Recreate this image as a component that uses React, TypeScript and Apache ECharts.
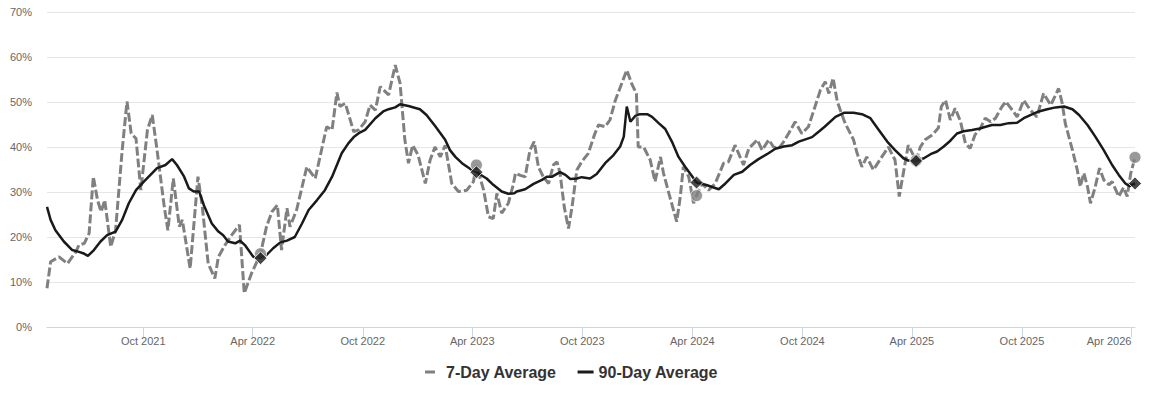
import React, { useEffect, useRef } from 'react';
import * as echarts from 'echarts';

const sevenDay: [string, number][] = [
  ['2021-04-24', 8.6], ['2021-04-30', 14.5], ['2021-05-14', 15.6], ['2021-05-28', 14.1],
  ['2021-06-11', 16.7], ['2021-06-16', 18.2], ['2021-06-25', 18.6], ['2021-07-03', 20.8],
  ['2021-07-10', 33.4], ['2021-07-17', 28.2], ['2021-07-23', 25.6], ['2021-07-29', 28.2],
  ['2021-08-08', 17.8], ['2021-08-16', 21.5], ['2021-08-27', 39.3], ['2021-09-04', 50.1],
  ['2021-09-11', 43.0], ['2021-09-19', 41.9], ['2021-09-27', 30.4], ['2021-10-08', 43.8],
  ['2021-10-16', 47.1], ['2021-10-24', 39.3], ['2021-11-05', 26.7], ['2021-11-11', 21.5],
  ['2021-11-20', 33.0], ['2021-11-30', 22.3], ['2021-12-05', 23.8], ['2021-12-18', 13.0],
  ['2021-12-31', 33.4], ['2022-01-07', 27.0], ['2022-01-17', 14.1], ['2022-01-28', 10.8],
  ['2022-02-03', 15.6], ['2022-02-14', 18.2], ['2022-02-25', 20.4], ['2022-03-10', 22.7],
  ['2022-03-18', 7.5], ['2022-03-30', 11.9], ['2022-04-08', 14.5], ['2022-04-14', 16.3],
  ['2022-04-24', 22.3], ['2022-05-03', 25.6], ['2022-05-12', 27.1], ['2022-05-19', 17.1],
  ['2022-05-28', 26.4], ['2022-06-02', 22.3], ['2022-06-13', 26.0], ['2022-06-30', 35.6],
  ['2022-07-14', 33.0], ['2022-08-02', 44.5], ['2022-08-11', 43.8], ['2022-08-19', 52.1],
  ['2022-08-24', 49.0], ['2022-09-02', 49.7], ['2022-09-16', 43.4], ['2022-09-24', 43.8],
  ['2022-10-05', 45.6], ['2022-10-13', 49.3], ['2022-10-22', 48.2], ['2022-10-30', 53.4],
  ['2022-11-13', 51.6], ['2022-11-24', 58.2], ['2022-12-02', 54.2], ['2022-12-10', 41.6],
  ['2022-12-16', 36.4], ['2022-12-23', 40.4], ['2023-01-01', 38.2], ['2023-01-13', 31.9],
  ['2023-01-21', 37.1], ['2023-01-29', 40.0], ['2023-02-07', 37.8], ['2023-02-15', 40.4],
  ['2023-02-26', 31.9], ['2023-03-09', 30.1], ['2023-03-23', 30.4], ['2023-04-03', 32.3],
  ['2023-04-08', 36.0], ['2023-04-20', 30.4], ['2023-04-28', 24.5], ['2023-05-06', 24.1],
  ['2023-05-12', 29.7], ['2023-05-20', 25.3], ['2023-05-31', 27.5], ['2023-06-08', 31.5],
  ['2023-06-12', 34.2], ['2023-06-20', 33.7], ['2023-06-28', 33.4], ['2023-07-06', 39.3],
  ['2023-07-13', 41.2], ['2023-07-20', 35.6], ['2023-07-28', 33.4], ['2023-08-06', 31.9],
  ['2023-08-14', 36.0], ['2023-08-20', 36.7], ['2023-08-25', 34.2], ['2023-09-01', 26.7],
  ['2023-09-08', 21.9], ['2023-09-14', 26.7], ['2023-09-22', 34.9], ['2023-09-30', 36.7],
  ['2023-10-11', 38.6], ['2023-10-22', 43.0], ['2023-10-28', 44.9], ['2023-11-08', 44.5],
  ['2023-11-16', 46.0], ['2023-11-25', 50.4], ['2023-12-14', 57.1], ['2023-12-23', 53.8],
  ['2023-12-30', 51.9], ['2024-01-02', 40.0], ['2024-01-11', 40.0], ['2024-01-22', 37.1],
  ['2024-01-30', 32.3], ['2024-02-08', 37.8], ['2024-02-13', 34.2], ['2024-02-22', 29.7],
  ['2024-03-06', 23.4], ['2024-03-12', 29.0], ['2024-03-17', 35.6], ['2024-03-26', 33.4],
  ['2024-04-03', 27.5], ['2024-04-08', 29.2], ['2024-04-17', 31.9], ['2024-04-28', 30.4],
  ['2024-05-09', 31.9], ['2024-05-23', 36.4], ['2024-05-31', 36.7], ['2024-06-11', 40.4],
  ['2024-06-25', 36.0], ['2024-07-04', 39.7], ['2024-07-18', 41.6], ['2024-07-26', 39.3],
  ['2024-08-06', 41.6], ['2024-08-14', 40.0], ['2024-08-23', 39.7], ['2024-08-31', 41.2],
  ['2024-09-08', 43.0], ['2024-09-19', 45.6], ['2024-09-30', 43.0], ['2024-10-11', 44.5],
  ['2024-10-22', 49.0], ['2024-10-31', 52.7], ['2024-11-08', 54.5], ['2024-11-14', 51.9],
  ['2024-11-21', 55.3], ['2024-11-28', 50.1], ['2024-12-03', 48.2], ['2024-12-11', 45.3],
  ['2024-12-25', 41.6], ['2024-12-31', 38.6], ['2025-01-08', 35.6], ['2025-01-16', 37.8],
  ['2025-01-27', 34.9], ['2025-02-10', 37.8], ['2025-02-21', 40.0], ['2025-03-04', 37.1],
  ['2025-03-11', 29.0], ['2025-03-26', 40.4], ['2025-04-08', 37.0], ['2025-04-15', 40.0],
  ['2025-04-23', 41.6], ['2025-05-05', 42.7], ['2025-05-15', 44.2], ['2025-05-20', 49.0],
  ['2025-05-27', 50.4], ['2025-06-04', 46.0], ['2025-06-12', 48.6], ['2025-06-21', 45.6],
  ['2025-06-29', 40.8], ['2025-07-07', 39.7], ['2025-07-15', 42.7], ['2025-07-24', 44.2],
  ['2025-08-01', 46.4], ['2025-08-10', 45.6], ['2025-08-18', 46.4], ['2025-08-29', 49.0],
  ['2025-09-04', 50.1], ['2025-09-15', 48.2], ['2025-09-23', 46.7], ['2025-10-04', 50.4],
  ['2025-10-15', 48.2], ['2025-10-26', 46.7], ['2025-11-06', 51.9], ['2025-11-18', 49.3],
  ['2025-12-01', 53.0], ['2025-12-07', 49.7], ['2025-12-12', 45.3], ['2025-12-24', 39.3],
  ['2026-01-01', 34.9], ['2026-01-06', 31.2], ['2026-01-12', 34.2], ['2026-01-18', 31.2],
  ['2026-01-23', 27.5], ['2026-01-31', 31.2], ['2026-02-07', 35.3], ['2026-02-14', 32.7],
  ['2026-02-23', 31.6], ['2026-02-28', 32.3], ['2026-03-11', 29.0], ['2026-03-19', 31.0],
  ['2026-03-25', 29.0], ['2026-03-31', 34.2], ['2026-04-07', 37.7],
];

const ninetyDay: [string, number][] = [
  ['2021-04-24', 26.7], ['2021-04-30', 23.8], ['2021-05-08', 21.5], ['2021-05-22', 19.0],
  ['2021-06-05', 17.1], ['2021-06-16', 16.7], ['2021-06-23', 16.4], ['2021-07-01', 15.8],
  ['2021-07-11', 17.1], ['2021-07-22', 19.0], ['2021-08-02', 20.4], ['2021-08-16', 21.2],
  ['2021-08-27', 23.8], ['2021-09-07', 27.5], ['2021-09-19', 30.4], ['2021-10-02', 32.3],
  ['2021-10-13', 33.8], ['2021-10-24', 35.3], ['2021-11-07', 36.0], ['2021-11-18', 37.3],
  ['2021-11-26', 36.0], ['2021-12-08', 33.4], ['2021-12-16', 30.8], ['2021-12-24', 30.1],
  ['2022-01-02', 30.1], ['2022-01-10', 27.0], ['2022-01-23', 23.0], ['2022-02-03', 21.2],
  ['2022-02-11', 20.4], ['2022-02-19', 19.0], ['2022-03-03', 18.6], ['2022-03-11', 19.2],
  ['2022-03-19', 18.2], ['2022-04-02', 15.6], ['2022-04-14', 15.3], ['2022-04-24', 16.0],
  ['2022-05-05', 17.5], ['2022-05-17', 18.8], ['2022-05-28', 19.2], ['2022-06-10', 20.0],
  ['2022-06-22', 23.0], ['2022-07-03', 26.0], ['2022-07-17', 28.2], ['2022-07-30', 30.4],
  ['2022-08-11', 33.4], ['2022-08-19', 36.0], ['2022-08-27', 38.6], ['2022-09-07', 40.8],
  ['2022-09-16', 42.2], ['2022-09-26', 43.2], ['2022-10-05', 43.8], ['2022-10-22', 46.4],
  ['2022-11-04', 47.9], ['2022-11-13', 48.4], ['2022-11-24', 48.8], ['2022-12-02', 49.5],
  ['2022-12-16', 49.1], ['2023-01-04', 48.4], ['2023-01-15', 47.1], ['2023-01-29', 44.7],
  ['2023-02-15', 41.6], ['2023-02-23', 39.3], ['2023-03-04', 37.8], ['2023-03-15', 36.4],
  ['2023-03-29', 35.1], ['2023-04-08', 34.4], ['2023-04-25', 33.0], ['2023-05-06', 31.6],
  ['2023-05-20', 30.1], ['2023-05-31', 29.6], ['2023-06-10', 29.7], ['2023-06-14', 30.1],
  ['2023-06-28', 30.6], ['2023-07-12', 31.8], ['2023-07-26', 32.7], ['2023-08-03', 33.4],
  ['2023-08-12', 33.4], ['2023-08-25', 34.4], ['2023-09-03', 33.8], ['2023-09-11', 32.9],
  ['2023-09-22', 33.0], ['2023-09-30', 33.3], ['2023-10-14', 33.0], ['2023-10-25', 34.0],
  ['2023-11-08', 36.4], ['2023-11-22', 38.2], ['2023-12-03', 40.1], ['2023-12-09', 42.3],
  ['2023-12-14', 49.0], ['2023-12-20', 45.6], ['2023-12-28', 46.9], ['2024-01-05', 47.3],
  ['2024-01-17', 47.3], ['2024-01-25', 46.7], ['2024-02-05', 45.3], ['2024-02-16', 44.0],
  ['2024-02-27', 41.2], ['2024-03-09', 37.8], ['2024-03-20', 35.6], ['2024-03-31', 33.6],
  ['2024-04-08', 32.1], ['2024-04-23', 31.6], ['2024-05-04', 31.1], ['2024-05-15', 30.6],
  ['2024-05-26', 31.9], ['2024-06-09', 33.8], ['2024-06-23', 34.5], ['2024-07-06', 36.0],
  ['2024-07-20', 37.3], ['2024-08-03', 38.4], ['2024-08-17', 39.6], ['2024-08-31', 40.1],
  ['2024-09-14', 40.4], ['2024-09-25', 41.2], ['2024-10-06', 41.7], ['2024-10-17', 42.2],
  ['2024-10-28', 43.4], ['2024-11-07', 44.5], ['2024-11-25', 46.7], ['2024-12-09', 47.6],
  ['2024-12-25', 47.6], ['2025-01-08', 47.3], ['2025-01-22', 46.4], ['2025-02-05', 43.8],
  ['2025-02-19', 41.2], ['2025-03-04', 39.3], ['2025-03-18', 37.5], ['2025-03-26', 37.0],
  ['2025-04-08', 36.9], ['2025-04-21', 37.5], ['2025-05-02', 38.4], ['2025-05-13', 39.0],
  ['2025-05-24', 40.1], ['2025-06-04', 41.4], ['2025-06-15', 43.0], ['2025-06-26', 43.5],
  ['2025-07-10', 43.8], ['2025-07-23', 44.1], ['2025-07-30', 44.4], ['2025-08-12', 44.9],
  ['2025-08-26', 44.9], ['2025-09-09', 45.3], ['2025-09-23', 45.4], ['2025-10-04', 46.4],
  ['2025-10-15', 47.1], ['2025-10-29', 47.9], ['2025-11-12', 48.4], ['2025-11-26', 48.8],
  ['2025-12-10', 49.0], ['2025-12-24', 48.4], ['2026-01-04', 47.1], ['2026-01-18', 44.9],
  ['2026-01-31', 42.3], ['2026-02-14', 39.3], ['2026-02-28', 36.0], ['2026-03-11', 33.8],
  ['2026-03-22', 31.9], ['2026-03-29', 31.3], ['2026-04-07', 31.9],
];

const markerDates = ['2022-04-14', '2023-04-08', '2024-04-08', '2025-04-08', '2026-04-07'];
const markerSevenDay = [16.3, 36.0, 29.2, 37.0, 37.7];
const markerNinetyDay = [15.3, 34.4, 32.1, 36.9, 31.9];

const tickDates = [
  '2021-10-01', '2022-04-01', '2022-10-01', '2023-04-01', '2023-10-01',
  '2024-04-01', '2024-10-01', '2025-04-01', '2025-10-01', '2026-04-01',
];

const xStart = '2021-04-24';
const xEnd = '2026-04-07';
const MONTHS = ['Jan', 'Feb', 'Mar', 'Apr', 'May', 'Jun', 'Jul', 'Aug', 'Sep', 'Oct', 'Nov', 'Dec'];

function toTs(s: string): number {
  const [y, m, d] = s.split('-').map(Number);
  return new Date(y, m - 1, d).getTime();
}

const FONT = '"Liberation Sans", Arial, Helvetica, sans-serif';

export default function App() {
  const ref = useRef<HTMLDivElement>(null);

  useEffect(() => {
    if (!ref.current) return;
    const chart = echarts.init(ref.current, null, { renderer: 'svg' });
    const ticks = tickDates.map(toTs);
    chart.setOption({
      animation: false,
      backgroundColor: '#ffffff',
      textStyle: { fontFamily: FONT },
      grid: { left: 47, right: 15, top: 12, bottom: 74, containLabel: false, outerBoundsMode: 'none' },
      legend: {
        left: 420,
        top: 359,
        itemWidth: 16,
        itemHeight: 3,
        itemGap: 21,
        textStyle: { fontSize: 16, fontWeight: 'bold', color: '#333333', fontFamily: FONT },
        data: [
          {
            name: '7-Day Average',
            icon: 'path://M0,0H10V3H0ZM0,0H16V0H0Z',
            itemStyle: { color: '#808080' },
          },
          {
            name: '90-Day Average',
            icon: 'rect',
            itemStyle: { color: '#1a1a1a' },
          },
        ],
      },
      xAxis: {
        type: 'value',
        min: toTs(xStart),
        max: toTs(xEnd),
        axisLine: { show: true, lineStyle: { color: '#ccd6eb', width: 1 } },
        axisTick: { show: true, customValues: ticks, length: 10, lineStyle: { color: '#ccd6eb' } },
        axisLabel: {
          customValues: ticks,
          color: '#666666',
          fontSize: 11,
          margin: 8,
          alignMaxLabel: 'right',
          formatter: (v: number) => {
            const d = new Date(v);
            return MONTHS[d.getMonth()] + ' ' + d.getFullYear();
          },
        },
        splitLine: { show: false },
      },
      yAxis: {
        type: 'value',
        min: 0,
        max: 70,
        interval: 10,
        axisLine: { show: false },
        axisTick: { show: false },
        axisLabel: { formatter: '{value}%', color: '#666666', fontSize: 11, margin: 15 },
        splitLine: { lineStyle: { color: '#e6e6e6', width: 1 } },
      },
      series: [
        {
          name: '7-Day Average',
          type: 'line',
          data: sevenDay.map(([d, v]) => [toTs(d), v]),
          symbol: 'none',
          z: 2,
          lineStyle: { color: '#808080', width: 3, type: [9, 3] },
          itemStyle: { color: '#808080' },
        },
        {
          name: '90-Day Average',
          type: 'line',
          data: ninetyDay.map(([d, v]) => [toTs(d), v]),
          symbol: 'none',
          z: 3,
          lineStyle: { color: '#1a1a1a', width: 2.5 },
          itemStyle: { color: '#1a1a1a' },
        },
        {
          name: '7-Day marker',
          type: 'scatter',
          data: markerDates.map((d, i) => [toTs(d), markerSevenDay[i]]),
          symbol: 'circle',
          symbolSize: 12,
          z: 4,
          itemStyle: { color: '#808080', borderColor: '#ffffff', borderWidth: 1 },
        },
        {
          name: '90-Day marker',
          type: 'scatter',
          data: markerDates.map((d, i) => [toTs(d), markerNinetyDay[i]]),
          symbol: 'diamond',
          symbolSize: 13,
          z: 5,
          itemStyle: { color: '#1a1a1a', borderColor: '#ffffff', borderWidth: 1 },
        },
      ],
    });
    return () => chart.dispose();
  }, []);

  return (
    <div
      ref={ref}
      style={{ position: 'absolute', left: 0, top: 0, width: 1150, height: 401, background: '#ffffff' }}
    />
  );
}
